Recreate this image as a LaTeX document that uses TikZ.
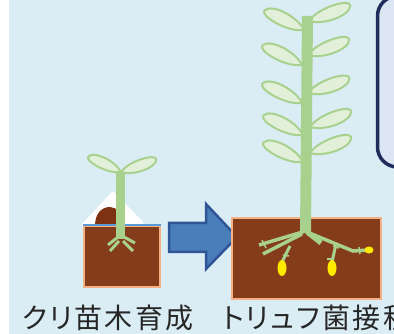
\documentclass[tikz,border=0pt]{standalone}
\usepackage{fontspec}
\newfontfamily\jpfont[RawFeature=+palt, LetterSpace=8]{Noto Sans CJK JP}

\definecolor{sky}{HTML}{DAEDF5}
\definecolor{boxfill}{HTML}{DCE6F2}
\definecolor{boxline}{HTML}{1F2D5C}
\definecolor{soil}{HTML}{843C1A}
\definecolor{potline}{HTML}{F4B183}
\definecolor{stemgreen}{HTML}{A9D18E}
\definecolor{leaffill}{HTML}{E2F0D9}
\definecolor{arrowfill}{HTML}{4A7EBB}
\definecolor{arrowline}{HTML}{2F5597}
\definecolor{rimblue}{HTML}{5B9BD5}
\definecolor{nut}{HTML}{7E3214}
\definecolor{truffle}{HTML}{FFEB00}
\definecolor{ink}{HTML}{262626}

\tikzset{
  pot/.style={fill=soil, draw=potline, line width=2.5},
  root/.style={stemgreen, line width=3.5},
  label/.style={inner sep=0pt, text=ink, font=\jpfont\fontsize{28}{28}\selectfont},
  leaf/.pic={
    \draw[stemgreen, fill=leaffill, line width=2]
      (0,0) .. controls (12,10) and (40,11) .. (44,2)
            .. controls (47,-5) and (14,-9) .. (0,0);
  }
}

\begin{document}
\begin{tikzpicture}[x=1pt, y=-1pt]
    \useasboundingbox (0,0) rectangle (394,334);
    \clip (0,0) rectangle (394,334);
    % background
    \fill[white] (0,0) rectangle (9,334);
    \fill[sky] (9,0) rectangle (394,334);
    % side panel
    \draw[boxline, fill=boxfill, line width=3.5, rounded corners=20] (377.5,-4) rectangle (430,167);

    % seedling: nut and pot
    \fill[white] (82,224) -- (113,191) -- (143,222) -- (143,226) -- (82,226) -- cycle;
    \fill[nut] (95,226) .. controls (95,213) and (102,207) .. (110,207)
        .. controls (117,207) and (122,214) .. (122,226) -- cycle;
    \draw[pot] (84,226) rectangle (160,287);
    \draw[rimblue, line width=1.5] (83,225) -- (161,225);
    % seedling: stem and roots
    \fill[stemgreen] (116,172) rectangle (125,239);
    \draw[root, line width=3] (118,237) -- (108,245);
    \draw[root, line width=3] (124,237) -- (135,243);
    \draw[root, line width=3] (119,241) -- (110,251);
    \draw[root, line width=3] (123,241) -- (133,251);
    % seedling: cotyledons
    \pic[rotate=157, scale=0.82] at (121,172) {leaf};
    \pic[rotate=22, scale=0.85] at (121,172) {leaf};

    % arrow
    \draw[fill=arrowfill, draw=arrowline, line width=2.5, line join=miter]
        (169,223) -- (206,223) -- (206,204) -- (237,237) -- (206,269) -- (206,252) -- (169,252) -- cycle;

    % big pot
    \draw[pot] (232,218) rectangle (381,299);
    % left leaves
    \pic[rotate=156] at (304,30) {leaf};
    \pic[rotate=156] at (302,65) {leaf};
    \pic[rotate=156] at (302,103) {leaf};
    \pic[rotate=156] at (303,135) {leaf};
    \pic[rotate=156] at (303,162) {leaf};
    % right leaves
    \pic[rotate=23] at (309,21) {leaf};
    \pic[rotate=23] at (308,55) {leaf};
    \pic[rotate=22] at (308,93) {leaf};
    \pic[rotate=23] at (310,127) {leaf};
    \pic[rotate=23] at (310,153) {leaf};
    % stem
    \fill[stemgreen] (302,16) -- (313,16) -- (311,233) -- (300,233) -- cycle;
    % roots
    \draw[root] (306,231) -- (259,245);
    \draw[root] (302,234) -- (263,254);
    \draw[root, line width=3] (290,246) -- (282,262);
    \draw[root] (307,232) -- (353,251) -- (369,250);
    \draw[root, line width=5] (307,232) -- (321,243);
    \draw[root, line width=3] (336,244) -- (332,262);
    % root hairs
    \draw[root, line width=1.5] (262,240) -- (266,248);
    \draw[root, line width=1.5] (283,255) -- (289,256);
    \draw[root, line width=1.5] (327,259) -- (333,259);
    \draw[root, line width=1.5] (333,246) -- (339,248);
    \draw[root, line width=1.5] (359,247) -- (360,254);
    % truffles
    \fill[truffle] (282,268) ellipse (4.5 and 8);
    \fill[truffle] (332,268) ellipse (4.5 and 8);
    \fill[truffle] (369,250) ellipse (4.5 and 3.5);

    % captions
    \node[label, anchor=west] (lblseed) at (22,318) {クリ苗木育成};
    \node[label, anchor=west] (lblinoc) at (222,318) {トリュフ菌接種};
\end{tikzpicture}
\end{document}
